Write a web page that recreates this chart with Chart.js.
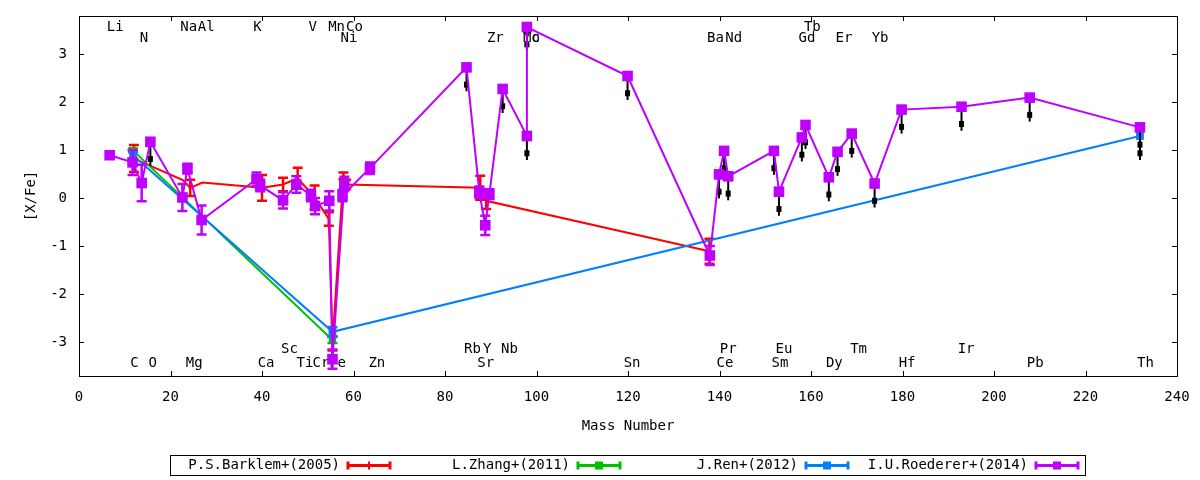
<!DOCTYPE html>
<html>
<head>
<meta charset="utf-8">
<script src="https://cdn.jsdelivr.net/npm/chart.js@4.4.1/dist/chart.umd.min.js"></script>
<style>
html, body { margin: 0; padding: 0; background: #fff; }
</style>
</head>
<body>
<canvas id="abundance" width="1200" height="480"></canvas>
<script>
// axis ticks
const xTicks = [0, 20, 40, 60, 80, 100, 120, 140, 160, 180, 200, 220, 240];
const yTicks = [-3, -2, -1, 0, 1, 2, 3];

// P.S.Barklem+(2005)
const barklemMass = [12.0, 22.7, 24.3, 27.0, 40.0, 44.6, 47.8, 51.5, 54.6, 55.4, 57.8, 58.4, 87.7, 89.0, 137.8];
const barklemVal  = [0.83, 0.38, 0.22, 0.33, 0.22, 0.29, 0.42, 0.02, -0.43, -3.02, 0.47, 0.29, 0.22, -0.05, -1.1];
const barklemErr  = [0.28, 0, 0.17, 0, 0.27, 0.14, 0.22, 0.25, 0.14, 0.15, 0.07, 0.1, 0.25, 0.17, 0.26];

// L.Zhang+(2011)
const zhangMass = [11.8, 55.4];
const zhangVal  = [1.0, -2.95];
const zhangErr  = [0.04, 0.06];

// J.Ren+(2012)
const renMass  = [11.8, 55.4, 231.9];
const renVal   = [0.9, -2.78, 1.3];
const renErr   = [0.08, 0.1, 0];
const renLimit = [false, false, true];

// I.U.Roederer+(2014)
const roedMass = [6.7, 11.7, 13.7, 15.6, 22.6, 23.7, 26.8, 38.8, 39.6, 44.6, 47.5, 50.7, 51.6, 54.7, 55.4,
                  58.0, 57.6, 63.6, 84.7, 87.5, 88.8, 89.7, 92.6, 97.9, 97.9, 119.9, 137.9, 139.9, 141.0,
                  141.9, 151.9, 153.0, 158.0, 158.8, 163.9, 165.8, 168.9, 173.9, 179.8, 192.9, 207.8, 231.9];
const roedVal  = [0.9, 0.75, 0.32, 1.18, 0.02, 0.62, -0.45, 0.4, 0.27, -0.04, 0.29, 0.06, -0.16, -0.05, -3.35,
                  0.3, 0.06, 0.63, 2.73, 0.13, -0.56, 0.09, 2.28, 1.3, 3.57, 2.55, -1.19, 0.5, 0.99,
                  0.46, 0.99, 0.14, 1.27, 1.53, 0.44, 0.97, 1.35, 0.31, 1.85, 1.91, 2.1, 1.48];
const roedErr  = [0, 0.26, 0.38, 0, 0.28, 0.1, 0.3, 0.14, 0.12, 0.17, 0.17, 0.12, 0.17, 0.2, 0.2,
                  0.15, 0.12, 0.12, 0, 0.12, 0.2, 0.1, 0, 0, 0, 0, 0.2, 0, 0,
                  0, 0, 0, 0, 0, 0, 0, 0, 0, 0, 0, 0, 0];
const roedLimit = [false, false, false, true, false, false, false, false, false, false, false, false, false, false, false,
                   false, false, false, true, false, false, false, true, true, true, true, false, true, true,
                   true, true, true, true, true, true, true, true, true, true, true, true, true];

// element labels: name, position on the mass axis, text row (0,1 top; 2,3 bottom)
const elemName = ['Li', 'Na', 'Al', 'K', 'V', 'Mn', 'Co', 'Tb',
                  'N', 'Ni', 'Zr', 'Mo', 'Tc', 'Ba', 'Nd', 'Gd', 'Er', 'Yb',
                  'Sc', 'Rb', 'Y', 'Nb', 'Pr', 'Eu', 'Tm', 'Ir',
                  'C', 'O', 'Mg', 'Ca', 'Ti', 'Cr', 'Fe', 'Zn', 'Sr', 'Sn', 'Ce', 'Sm', 'Dy', 'Hf', 'Pb', 'Th'];
const elemMass = [7.9, 24.0, 27.8, 39.0, 51.1, 56.3, 60.2, 160.3,
                  14.2, 59.0, 91.0, 98.9, 98.9, 139.1, 143.1, 159.1, 167.2, 175.1,
                  46.0, 86.0, 89.2, 94.1, 141.9, 154.1, 170.4, 193.9,
                  12.1, 16.1, 25.2, 40.9, 49.4, 52.9, 56.5, 65.1, 88.9, 120.9, 141.2, 153.2, 165.1, 181.0, 209.0, 233.1];
const elemRow  = [0, 0, 0, 0, 0, 0, 0, 0,
                  1, 1, 1, 1, 1, 1, 1, 1, 1, 1,
                  2, 2, 2, 2, 2, 2, 2, 2,
                  3, 3, 3, 3, 3, 3, 3, 3, 3, 3, 3, 3, 3, 3, 3, 3];
const rowLevel = [3.57, 3.34, -3.14, -3.43];

const FONT = 'DejaVu Sans Mono';
const limitLength = 0.5;

function points(mass, val) {
    return mass.map((m, i) => ({ x: m, y: val[i] }));
}

// scale paddings for edge labels would shrink the plot, the frame is fixed here
function fixScale(s, size) {
    if (s.isHorizontal()) s.height = size; else s.width = size;
    s.paddingTop = 0; s.paddingBottom = 0; s.paddingLeft = 0; s.paddingRight = 0;
}

const errorBars = {
    id: 'errorBars',
    beforeDatasetDraw(chart, args) {
        const ds = chart.data.datasets[args.index];
        const xs = chart.scales.x, ys = chart.scales.y;
        const ctx = chart.ctx;
        const area = chart.chartArea;
        ctx.save();
        ctx.beginPath();
        ctx.rect(area.left, area.top, area.right - area.left, area.bottom - area.top);
        ctx.clip();
        ds.data.forEach((p, i) => {
            const px = xs.getPixelForValue(p.x);
            const e = ds.errors[i];
            if (e > 0) {
                const top = ys.getPixelForValue(p.y + e);
                const bot = ys.getPixelForValue(p.y - e);
                ctx.strokeStyle = ds.borderColor;
                ctx.lineWidth = ds.errWidth;
                ctx.beginPath();
                ctx.moveTo(px, top); ctx.lineTo(px, bot);
                ctx.moveTo(px - 5, top); ctx.lineTo(px + 5, top);
                ctx.moveTo(px - 5, bot); ctx.lineTo(px + 5, bot);
                ctx.stroke();
            }
            if (ds.limits && ds.limits[i]) {
                const y0 = ys.getPixelForValue(p.y);
                const y1 = ys.getPixelForValue(p.y - limitLength);
                ctx.strokeStyle = '#000';
                ctx.fillStyle = '#000';
                ctx.lineWidth = 2;
                ctx.beginPath();
                ctx.moveTo(px, y0); ctx.lineTo(px, y1);
                ctx.stroke();
                const yh = y0 + (y1 - y0) * 0.72;
                ctx.fillRect(px - 2.5, yh - 3, 5, 6);
            }
        });
        ctx.restore();
    }
};

const elementLabels = {
    id: 'elementLabels',
    beforeDatasetsDraw(chart) {
        const xs = chart.scales.x, ys = chart.scales.y;
        const ctx = chart.ctx;
        ctx.save();
        ctx.font = '14px "' + FONT + '"';
        ctx.fillStyle = '#000';
        ctx.textAlign = 'center';
        ctx.textBaseline = 'middle';
        elemName.forEach((name, i) => {
            ctx.fillText(name, xs.getPixelForValue(elemMass[i]), ys.getPixelForValue(rowLevel[elemRow[i]]));
        });
        ctx.restore();
    }
};

const frame = {
    id: 'frame',
    afterDatasetsDraw(chart) {
        const { left, right, top, bottom } = chart.chartArea;
        const xs = chart.scales.x, ys = chart.scales.y;
        const ctx = chart.ctx;
        ctx.save();
        ctx.strokeStyle = '#000';
        ctx.lineWidth = 1;
        ctx.strokeRect(Math.round(left) + 0.5, Math.round(top) + 0.5, Math.round(right - left), Math.round(bottom - top));
        ctx.beginPath();
        xTicks.forEach(v => {
            const px = Math.round(xs.getPixelForValue(v)) + 0.5;
            ctx.moveTo(px, bottom); ctx.lineTo(px, bottom - 5);
            ctx.moveTo(px, top); ctx.lineTo(px, top + 5);
        });
        yTicks.forEach(v => {
            const py = Math.round(ys.getPixelForValue(v)) + 0.5;
            ctx.moveTo(left, py); ctx.lineTo(left + 5, py);
            ctx.moveTo(right, py); ctx.lineTo(right - 5, py);
        });
        ctx.stroke();
        ctx.restore();
    }
};

// legend box below the plot, entries laid out like the gnuplot key
const keyBox = {
    id: 'keyBox',
    afterDraw(chart) {
        const ctx = chart.ctx;
        const sampleStart = [347, 577, 805, 1035];
        const y = 465.5;
        ctx.save();
        ctx.strokeStyle = '#000';
        ctx.lineWidth = 1;
        ctx.strokeRect(170.5, 455.5, 915, 20);
        ctx.font = '14px "' + FONT + '"';
        ctx.textAlign = 'right';
        ctx.textBaseline = 'middle';
        chart.data.datasets.forEach((ds, i) => {
            const sx = sampleStart[i];
            ctx.fillStyle = '#000';
            ctx.fillText(ds.label, sx - 7, y);
            ctx.strokeStyle = ds.borderColor;
            ctx.fillStyle = ds.borderColor;
            ctx.lineWidth = 3;
            ctx.beginPath();
            ctx.moveTo(sx, y); ctx.lineTo(sx + 44, y);
            ctx.moveTo(sx + 1, y - 4); ctx.lineTo(sx + 1, y + 4);
            ctx.moveTo(sx + 43, y - 4); ctx.lineTo(sx + 43, y + 4);
            ctx.stroke();
            if (ds.pointRadius > 0) {
                ctx.fillRect(sx + 18, y - 4, 8, 8);
            } else {
                ctx.lineWidth = 2;
                ctx.beginPath();
                ctx.moveTo(sx + 22, y - 4); ctx.lineTo(sx + 22, y + 4);
                ctx.stroke();
            }
        });
        ctx.restore();
    }
};

function series(label, color, mass, val, err, limits, radius, order) {
    return {
        label: label,
        data: points(mass, val),
        errors: err,
        limits: limits,
        errWidth: 2.5,
        showLine: true,
        borderColor: color,
        backgroundColor: color,
        borderWidth: 2,
        pointStyle: 'rect',
        pointRadius: radius,
        pointHoverRadius: radius,
        pointBorderWidth: 0,
        pointBackgroundColor: color,
        order: order
    };
}

const tickFont = { family: FONT, size: 14 };

new Chart(document.getElementById('abundance').getContext('2d'), {
    type: 'scatter',
    data: {
        datasets: [
            series('P.S.Barklem+(2005)', '#ff0000', barklemMass, barklemVal, barklemErr, null, 0, 3),
            series('L.Zhang+(2011)', '#00c000', zhangMass, zhangVal, zhangErr, null, 5, 2),
            series('J.Ren+(2012)', '#0080ff', renMass, renVal, renErr, renLimit, 5.5, 1),
            series('I.U.Roederer+(2014)', '#c000ff', roedMass, roedVal, roedErr, roedLimit, 7.5, 0)
        ]
    },
    options: {
        responsive: false,
        animation: false,
        layout: { padding: { top: 16, right: 23, left: 0, bottom: 0 } },
        plugins: {
            legend: { display: false },
            tooltip: { enabled: false }
        },
        scales: {
            x: {
                type: 'linear',
                min: 0,
                max: 240,
                afterBuildTicks: s => { s.ticks = xTicks.map(v => ({ value: v })); },
                afterFit: s => fixScale(s, 104),
                grid: { display: false, drawTicks: false },
                border: { display: false },
                ticks: { autoSkip: false, maxRotation: 0, padding: 13, color: '#000', font: tickFont },
                title: { display: true, text: 'Mass Number', color: '#000', font: tickFont, padding: { top: 0, bottom: 45 } }
            },
            y: {
                type: 'linear',
                min: -3.7,
                max: 3.8,
                afterBuildTicks: s => { s.ticks = yTicks.map(v => ({ value: v })); },
                afterFit: s => fixScale(s, 79),
                grid: { display: false, drawTicks: false },
                border: { display: false },
                ticks: { padding: 12, color: '#000', font: tickFont },
                title: { display: true, text: '[X/Fe]', color: '#000', font: tickFont, padding: { top: 23, bottom: 0 } }
            }
        }
    },
    plugins: [errorBars, elementLabels, frame, keyBox]
});
</script>
</body>
</html>
